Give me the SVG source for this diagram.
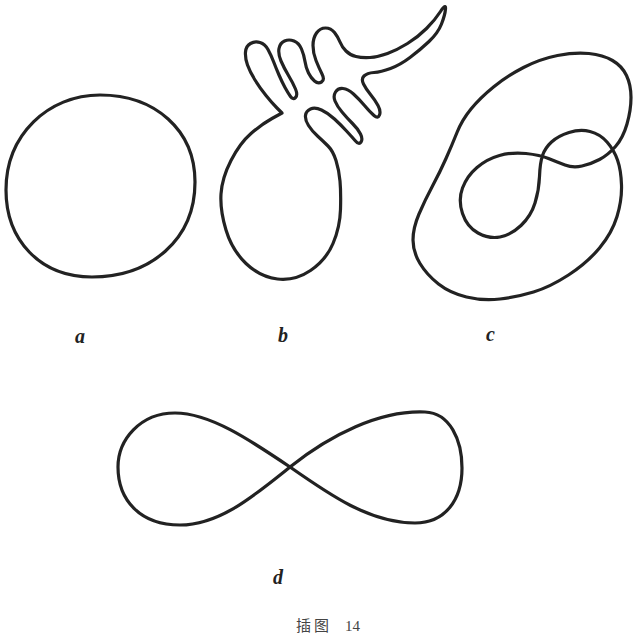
<svg xmlns="http://www.w3.org/2000/svg" width="637" height="643" viewBox="0 0 637 643">
<style>
.curve{fill:none;stroke:#222;stroke-width:3.2;stroke-linejoin:round;stroke-linecap:round}
.lbl{font-family:"Liberation Serif",serif;font-style:italic;font-weight:bold;font-size:20px;fill:#222}
.cap{font-family:"Liberation Serif","Noto Sans CJK SC",serif;font-size:15px;fill:#444}
</style>
<rect width="637" height="643" fill="#fff"/>
<g id="fig-a">
<path class="curve" d="M100,95 C155,95 195,130 195,182 C195,240 150,277 92,277 C40,277 6,240 6,190 C6,135 48,95 100,95 Z"/>
<text class="lbl" x="75" y="343">a</text>
</g>
<g id="fig-b">
<path class="curve" d="M282,113 L277,108 Q272,103 266,95.5 Q260,88 255,80 Q250,72 247.5,65 Q245,58 245.5,52 Q246,46 250.5,43.5 Q255,41 260,42.5 Q265,44 268,49.5 Q271,55 273.5,61.5 Q276,68 279,75 Q282,82 285,87.5 Q288,93 290.5,96.5 Q293,100 295.5,97.5 Q298,95 295.5,89 Q293,83 288.5,75.5 Q284,68 281,61 Q278,54 279,48.5 Q280,43 284.5,41 Q289,39 294,41 Q299,43 301.5,49 Q304,55 305,61.5 Q306,68 308.5,73 Q311,78 314.5,81 Q318,84 321.5,82 Q325,80 322,74 Q319,68 316,60.5 Q313,53 313,45.5 Q313,38 316.5,33 Q320,28 325.5,28 Q331,28 334.5,32.5 Q338,37 340,42 Q342,47 346,51 Q350,55 356,56.5 Q362,58 370,57.5 Q378,57 387.5,53.5 Q397,50 407.5,43.5 Q418,37 426.5,28.5 Q435,20 440.5,11.5 Q446,3 445.5,9 Q445,15 441.5,24 Q438,33 429,41.5 Q420,50 410,57.5 Q400,65 390.5,68.5 Q381,72 374,72.5 Q367,73 364,76 Q361,79 363.5,84 Q366,89 370.5,94.5 Q375,100 378,105.5 Q381,111 379.5,115 Q378,119 374,115.5 Q370,112 364.5,105.5 Q359,99 353.5,94 Q348,89 343,88.5 Q338,88 335.5,92 Q333,96 335,101 Q337,106 342,112 Q347,118 352.5,123.5 Q358,129 360.5,134 Q363,139 361,142 Q359,145 355.5,141 Q352,137 346.5,131 Q341,125 334.5,119 Q328,113 321.5,110 Q315,107 310.5,109 Q306,111 305.5,115.5 Q305,120 308.5,125.5 Q312,131 317.5,136 Q323,141 328,146 Q333,151 336,160.5 Q339,170 340,181 Q341,192 340.5,209.5 Q340,227 333,243.5 Q326,260 310.5,270.5 Q295,281 277.5,279 Q260,277 246,263.5 Q232,250 226,230 Q220,210 221,194 Q222,178 231,160.5 Q240,143 251,133.5 Q262,124 272,118.5 L282,113 Z"/>
<text class="lbl" x="278" y="342">b</text>
</g>
<g id="fig-c">
<path class="curve" d="M557.5,55.5 Q540,59 523.5,67.5 Q507,76 493.5,87 Q480,98 471,109 Q462,120 457,132.5 Q452,145 446,158.5 Q440,172 432.5,186 Q425,200 419,214 Q413,228 413,240 Q413,252 420,263.5 Q427,275 438.5,284 Q450,293 466.5,297 Q483,301 500,299 Q517,297 533.5,292 Q550,287 568.5,275 Q587,263 599.5,248 Q612,233 617,216.5 Q622,200 621.5,185 Q621,170 617.5,160 Q614,150 607,142 Q600,134 590,131.5 Q580,129 569,132.5 Q558,136 551.5,142 Q545,148 542.5,155.5 Q540,163 539.5,176.5 Q539,190 535,203 Q531,216 521,225.5 Q511,235 500,237 Q489,239 478,233 Q467,227 462.5,213.5 Q458,200 462.5,188 Q467,176 477,167.5 Q487,159 499.5,155.5 Q512,152 526,153.5 Q540,155 548.5,158.5 Q557,162 565,165 Q573,168 582,166 Q591,164 599.5,159.5 Q608,155 615.5,146.5 Q623,138 627,124 Q631,110 631,97.5 Q631,85 626.5,75.5 Q622,66 612.5,60.5 Q603,55 589,53.5 Q575,52 557.5,55.5 Z"/>
<text class="lbl" x="486" y="341">c</text>
</g>
<g id="fig-d">
<path class="curve" d="M290,467 C330,435 380,410 425,412 C450,413 462,440 462,468 C462,500 445,523 415,523 C370,523 330,495 290,467 C250,440 210,413 175,413 C140,413 118,440 118,467 C118,500 140,525 180,525 C220,525 255,495 290,467 Z"/>
<text class="lbl" x="273" y="584">d</text>
</g>
<text class="cap" x="296" y="631"><tspan letter-spacing="3">插图</tspan><tspan x="345">14</tspan></text>
</svg>
